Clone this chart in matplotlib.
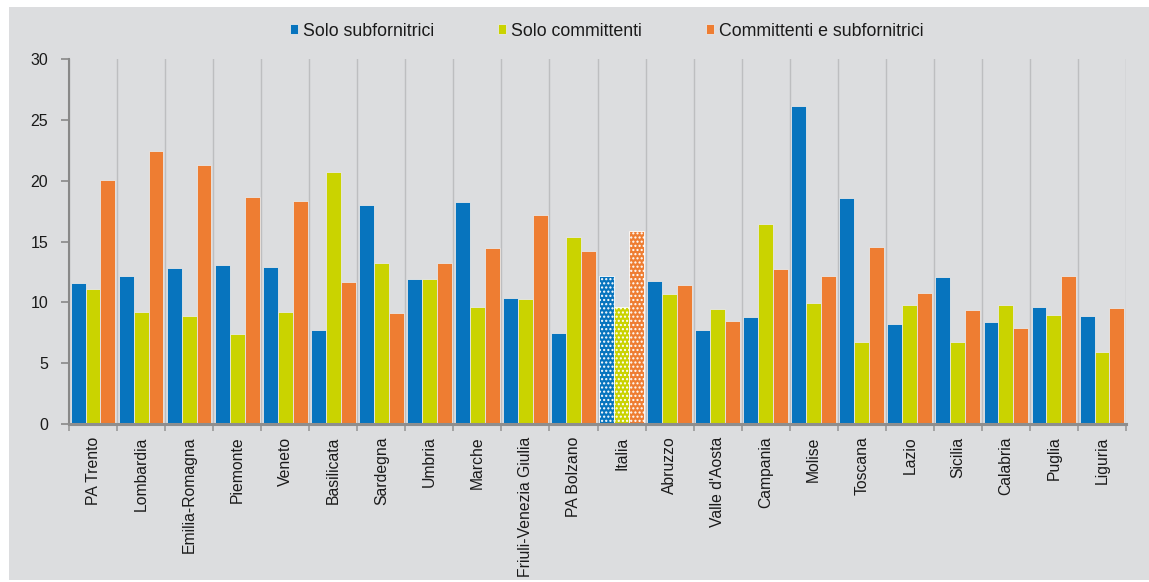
import numpy as np
import matplotlib.pyplot as plt
from matplotlib.patches import Rectangle

plt.rcParams['font.family'] = ['Liberation Sans', 'DejaVu Sans']
plt.rcParams['hatch.linewidth'] = 1.0

regioni = ['PA Trento', 'Lombardia', 'Emilia-Romagna', 'Piemonte', 'Veneto',
           'Basilicata', 'Sardegna', 'Umbria', 'Marche', 'Friuli-Venezia Giulia',
           'PA Bolzano', 'Italia', 'Abruzzo', "Valle d'Aosta", 'Campania',
           'Molise', 'Toscana', 'Lazio', 'Sicilia', 'Calabria', 'Puglia', 'Liguria']

solo_sub = [11.6, 12.15, 12.8, 13.05, 12.9, 7.7, 18.0, 11.95, 18.25, 10.35,
            7.45, 12.15, 11.75, 7.7, 8.8, 26.1, 18.55, 8.25, 12.1, 8.35, 9.6, 8.9]
solo_comm = [11.1, 9.2, 8.9, 7.4, 9.2, 20.7, 13.25, 11.95, 9.6, 10.3,
             15.4, 9.6, 10.65, 9.45, 16.45, 9.95, 6.7, 9.8, 6.7, 9.8, 8.95, 5.9]
comm_sub = [20.05, 22.45, 21.25, 18.65, 18.35, 11.65, 9.1, 13.2, 14.45, 17.2,
            14.2, 15.85, 11.4, 8.45, 12.7, 12.15, 14.55, 10.8, 9.4, 7.85, 12.2, 9.5]

serie = ['Solo subfornitrici', 'Solo committenti', 'Committenti e subfornitrici']
colori = ['#0774be', '#cad300', '#ee7d32']
sfondo = '#dcdddf'

fig = plt.figure(figsize=(11.49, 5.82), dpi=100)
fig.patch.set_facecolor('white')
fig.patches.append(Rectangle((9 / 1149, 0.003), 1 - 9 / 1149, 1 - 7 / 582 - 0.003,
                             transform=fig.transFigure, facecolor=sfondo,
                             edgecolor='none', zorder=-10))

ax = fig.add_axes([69 / 1149, 1 - 424 / 582, (1126 - 69) / 1149, (424 - 59) / 582])
ax.set_facecolor('none')

x = np.arange(len(regioni))
w = 0.31
i_it = regioni.index('Italia')
for k, (vals, col) in enumerate(zip([solo_sub, solo_comm, comm_sub], colori)):
    pos = x + (k - 1) * w
    bars = ax.bar(pos, vals, w, color=col, edgecolor='#e8e8e8', linewidth=0.6,
                  label=serie[k], zorder=3)
    # media nazionale a trama puntinata
    b = bars[i_it]
    b.set_hatch('....')
    b.set_edgecolor('white')

ax.set_xlim(-0.5, len(regioni) - 0.5)
ax.set_ylim(0, 30)
ax.set_yticks(np.arange(0, 31, 5))
ax.set_xticks(np.arange(-0.5, len(regioni), 1))
ax.set_xticklabels([])
ax.set_xticks(x, minor=True)
ax.set_xticklabels(regioni, minor=True, rotation=90, fontsize=11.3, color='#1a1a1a')
ax.tick_params(axis='x', which='minor', length=0, pad=9)
ax.tick_params(axis='x', which='major', length=5, color='#999999', width=1.2)
ax.tick_params(axis='y', length=6, color='#888888', width=1.2, labelsize=11.5,
               labelcolor='#1a1a1a', pad=9)
ax.grid(axis='x', which='major', color='#bdbec0', linewidth=1.0, zorder=1)

for s in ['top', 'right']:
    ax.spines[s].set_visible(False)
ax.spines['left'].set_color('#888888')
ax.spines['left'].set_linewidth(1.5)
ax.spines['bottom'].set_color('#8e8e8e')
ax.spines['bottom'].set_linewidth(2.2)
ax.spines['bottom'].set_zorder(4)

fig.legend(loc='center', bbox_to_anchor=(607 / 1149, 1 - 31 / 582), ncol=3,
           frameon=False, fontsize=12.8, handlelength=0.45, handleheight=0.45,
           handletextpad=0.28, columnspacing=3.6, labelcolor='#1a1a1a')

fig.savefig('out.png', dpi=100, facecolor='white')
